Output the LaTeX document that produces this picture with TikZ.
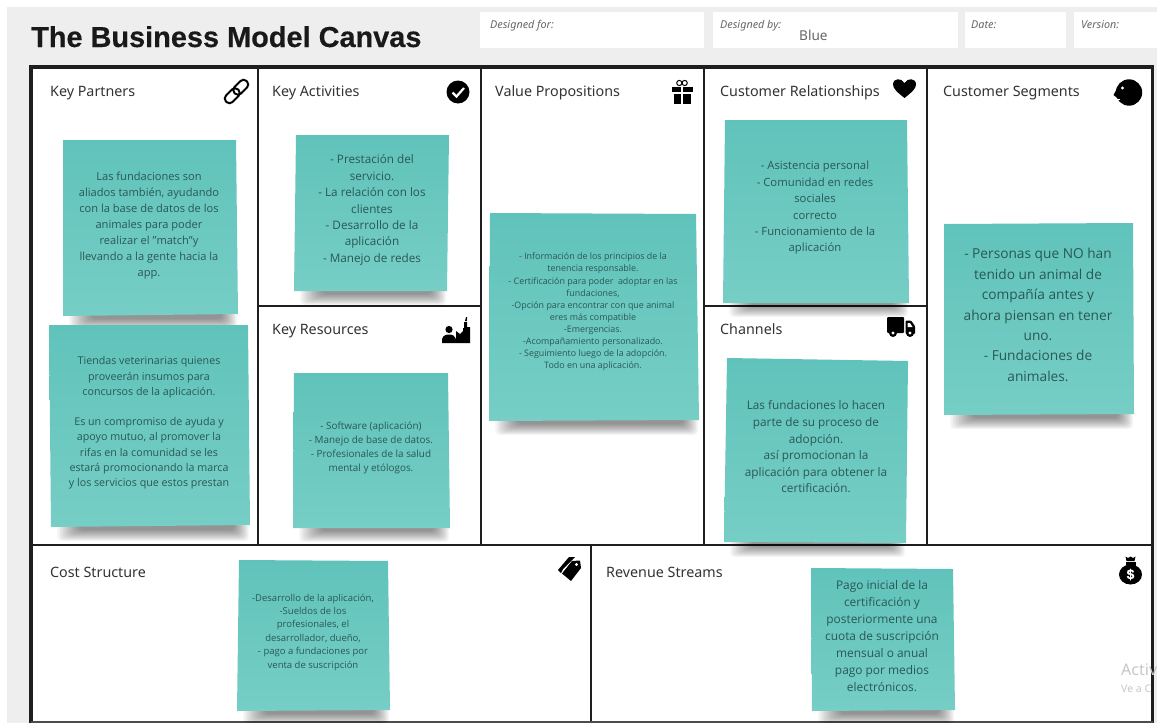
\documentclass[tikz,border=0pt]{standalone}
\usepackage{fontspec}
\setmainfont{Open Sans}
\newfontfamily\labelfont{Noto Sans}
\newfontfamily\titlefont[BoldFeatures={FakeBold=0.35}]{Liberation Sans}
\usetikzlibrary{calc}
\definecolor{pagegray}{HTML}{EEEEEE}
\definecolor{noteA}{HTML}{60C3BB}
\definecolor{noteB}{HTML}{76CEC5}
\definecolor{notetext}{HTML}{2A5855}
\definecolor{linedark}{HTML}{1E1E1E}
\definecolor{labeltext}{HTML}{333333}
\definecolor{headtext}{HTML}{666666}
\newcommand{\noteshadow}[3]{%
  \foreach \i in {0,...,15}{
    \fill[black,opacity=.032,rounded corners=4pt] ({#1+6+\i*1.5},{#3-4}) rectangle ({#2-1-\i*1.0},{#3+14-\i*.75});
  }}
\newcommand{\notepoly}[8]{%
  \shade[shading angle=155,top color=noteA,bottom color=noteB] (#1,#2) -- (#3,#4) -- (#5,#6) -- (#7,#8) -- cycle;}
\tikzset{
  x=1pt,y=-1pt,
  frame/.style={draw=linedark,line width=3.2pt},
  cell/.style={draw=linedark,line width=2pt},
  boxlabel/.style={anchor=base west,inner sep=0pt,text=labeltext,font=\labelfont\fontsize{14.3}{17}\selectfont},
  headlabel/.style={anchor=base west,inner sep=0pt,text=headtext,font=\labelfont\itshape\fontsize{10.8}{12}\selectfont},
  notebody/.style={align=center,inner sep=0pt,text=notetext},
  icon/.style={fill=black,draw=none},
}
\begin{document}
\begin{tikzpicture}
\useasboundingbox (0,0) rectangle (1157,723);
\fill[white] (0,0) rectangle (1157,723);
\fill[pagegray] (7,7) rectangle (1157,723);
% header boxes
\fill[white] (480,12) rectangle (704,48);
\fill[white] (713,12) rectangle (958,48);
\fill[white] (965,12) rectangle (1066,48);
\fill[white] (1074,12) rectangle (1157,48);
\node[headlabel] (hfor) at (490,28) {Designed for:};
\node[headlabel] (hby) at (720,28) {Designed by:};
\node[headlabel] (hdate) at (971,28) {Date:};
\node[headlabel] (hver) at (1081,28) {Version:};
\node[anchor=base west,inner sep=0pt,text=headtext,font=\labelfont\fontsize{13.6}{15}\selectfont] (blue) at (799,40) {Blue};
\node[anchor=base west,inner sep=0pt,text=black!90,font=\titlefont\bfseries\fontsize{28.9}{32}\selectfont] (title) at (31,47) {The Business Model Canvas};
% canvas
\fill[white] (31,67) rectangle (1153,722);
\draw[cell] (257.5,67) -- (257.5,544.5);
\draw[cell] (480.5,67) -- (480.5,544.5);
\draw[cell] (703.5,67) -- (703.5,544.5);
\draw[cell] (926.5,67) -- (926.5,544.5);
\draw[cell] (257.5,305.5) -- (480.5,305.5);
\draw[cell] (703.5,305.5) -- (926.5,305.5);
\draw[cell] (31,544.5) -- (1153,544.5);
\draw[cell] (590.5,544.5) -- (590.5,722);
\draw[frame] (31,723.5) -- (31,67) -- (1152.5,67) -- (1152.5,723.5);
\draw[draw=black!70,line width=1.6pt] (31,722) -- (1153,722);
% labels
\node[boxlabel] (kp) at (50,96) {Key Partners};
\node[boxlabel] (ka) at (272,96) {Key Activities};
\node[boxlabel] (vp) at (495,96) {Value Propositions};
\node[boxlabel] (cr) at (720,96) {Customer Relationships};
\node[boxlabel] (cs) at (943,96) {Customer Segments};
\node[boxlabel] (kr) at (272,334) {Key Resources};
\node[boxlabel] (ch) at (720,334) {Channels};
\node[boxlabel] (co) at (50,577) {Cost Structure};
\node[boxlabel] (rs) at (606,577) {Revenue Streams};
% shadows
\noteshadow{63}{238}{316}
\noteshadow{51}{250}{527}
\noteshadow{294}{447}{291}
\noteshadow{293}{450}{528}
\noteshadow{489}{699}{421}
\noteshadow{723}{909}{303}
\noteshadow{724}{906}{543}
\noteshadow{944}{1134}{415}
\noteshadow{237}{390}{711}
\noteshadow{812}{955}{711}
% notes
\notepoly{63}{140}{236}{140}{238}{314}{63}{316}
\notepoly{49}{325}{248}{325}{250}{525}{51}{527}
\notepoly{296}{135}{449}{135}{447}{291}{294}{291}
\notepoly{294}{373}{448}{373}{450}{528}{293}{528}
\notepoly{490}{213}{696}{214}{699}{420}{489}{421}
\notepoly{725}{120}{907}{120}{909}{303}{723}{303}
\notepoly{727}{358}{908}{361}{906}{543}{724}{542}
\notepoly{944}{224}{1133}{223}{1134}{414}{944}{415}
\notepoly{239}{560}{388}{561}{390}{710}{237}{711}
\notepoly{811}{568}{953}{569}{955}{710}{812}{711}
% note text
\node[notebody,font=\fontsize{11.1}{16}\selectfont] (t1) at (149,226) {Las fundaciones son\\aliados también, ayudando\\con la base de datos de los\\animales para poder\\realizar el "match"y\\llevando a la gente hacia la\\app.};
\node[notebody,font=\fontsize{10.7}{15.2}\selectfont] (t2) at (149,423) {Tiendas veterinarias quienes\\proveerán insumos para\\concursos de la aplicación.\\[15.2pt]Es un compromiso de ayuda y\\apoyo mutuo, al promover la\\rifas en la comunidad se les\\estará promocionando la marca\\y los servicios que estos prestan};
\node[notebody,font=\fontsize{11.7}{16.4}\selectfont] (t3) at (372,210) {- Prestación del\\servicio.\\- La relación con los\\clientes\\- Desarrollo de la\\aplicación\\- Manejo de redes};
\node[notebody,font=\fontsize{9.9}{14}\selectfont] (t4) at (371,448) {- Software (aplicación)\\- Manejo de base de datos.\\- Profesionales de la salud\\mental y etólogos.};
\node[notebody,font=\fontsize{8.9}{12.1}\selectfont] (t5) at (593,312) {- Información de los principios de la\\tenencia responsable.\\- Certificación para poder\ \ adoptar en las\\fundaciones,\\-Opción para encontrar con que animal\\eres más compatible\\-Emergencias.\\-Acompañamiento personalizado.\\- Seguimiento luego de la adopción.\\Todo en una aplicación.};
\node[notebody,font=\fontsize{11.3}{16.4}\selectfont] (t6) at (815,208) {- Asistencia personal\\- Comunidad en redes\\sociales\\correcto\\- Funcionamiento de la\\aplicación};
\node[notebody,font=\fontsize{11.8}{16.6}\selectfont] (t7) at (816,447) {Las fundaciones lo hacen\\parte de su proceso de\\adopción.\\así promocionan la\\aplicación para obtener la\\certificación.};
\node[notebody,font=\fontsize{13.7}{20.4}\selectfont] (t8) at (1038,315) {- Personas que NO han\\tenido un animal de\\compañía antes y\\ahora piensan en tener\\uno.\\- Fundaciones de\\animales.};
\node[notebody,font=\fontsize{9.5}{13.4}\selectfont] (t9) at (313,632) {-Desarrollo de la aplicación,\\-Sueldos de los\\profesionales, el\\desarrollador, dueño,\\- pago a fundaciones por\\venta de suscripción};
\node[notebody,font=\fontsize{11.9}{16.9}\selectfont] (t10) at (882,636) {Pago inicial de la\\certificación y\\posteriormente una\\cuota de suscripción\\mensual o anual\\pago por medios\\electrónicos.};
% watermark
\node[anchor=base west,inner sep=0pt,text=black!22,font=\labelfont\fontsize{16}{18}\selectfont] (wm1) at (1121,675) {Activ};
\node[anchor=base west,inner sep=0pt,text=black!22,font=\labelfont\fontsize{10.5}{12}\selectfont] (wm2) at (1121,692) {Ve a C};
% link icon
\begin{scope}[shift={(236.5,91.5)},rotate=45]
  \draw[line width=2pt,rounded corners=4.2pt] (-14.5,-4.6) rectangle (2.5,4.6);
  \draw[line width=2pt,rounded corners=4.2pt] (-2.5,-4.6) rectangle (14.5,4.6);
\end{scope}
% check icon
\fill[black] (458,92) circle (11.5);
\draw[white,line width=2.2pt] (452.5,92.5) -- (456.5,96.5) -- (464,88);
% gift icon
\draw[line width=1pt] (679.3,83) circle (2.6);
\draw[line width=1pt] (684.7,83) circle (2.6);
\fill[icon] (671.5,86.5) rectangle (692.5,92);
\fill[icon] (673.5,93.5) rectangle (691,104);
\fill[white] (681.3,86.5) rectangle (682.7,104);
% heart icon
\fill[icon] (904.5,98) .. controls (897,92) and (893,88.5) .. (893,84.5) .. controls (893,78) and (901.5,77.5) .. (904.5,83) .. controls (907.5,77.5) and (916,78) .. (916,84.5) .. controls (916,88.5) and (912,92) .. (904.5,98) -- cycle;
% face icon
\fill[icon] (1129,92.5) circle (13.2);
\fill[icon] (1118,87) -- (1113.5,95) -- (1118,98.5) -- cycle;
\fill[white] (1122.5,88) circle (1.6);
\draw[white,line width=.8pt] (1115.5,99.5) -- (1120,99.5);
% factory icon
\fill[icon] (442,343) -- (442,339) .. controls (443,335) and (447,334.5) .. (449,334.5) .. controls (453,334.5) and (455,336) .. (456,339) -- (456,343) -- cycle;
\fill[icon] (449,329.5) circle (3.6);
\fill[icon] (456,343) -- (456,331) -- (460,334) -- (463,331) -- (463,328) -- (464,328) -- (464,322) -- (467,322) -- (467,327) -- (470,327) -- (470,343) -- cycle;
\fill[icon] (465,321) -- (466,317) -- (467.2,317) -- (466.8,321) -- cycle;
% truck icon
\fill[icon,rounded corners=1pt] (887,317) rectangle (904,333);
\fill[icon,rounded corners=1pt] (905.5,320.5) -- (911,320.5) -- (915,326) -- (915,334) -- (905.5,334) -- cycle;
\fill[white] (907.5,323) -- (910,323) -- (912.5,327) -- (907.5,327) -- cycle;
\fill[black] (893,333) circle (4);
\fill[white] (893,333) circle (1.7);
\fill[black] (910,333) circle (4);
\fill[white] (910,333) circle (1.7);
% tag icon
\fill[icon] (558,570) -- (569,557) -- (575,557) -- (563,569) -- (561,573) -- cycle;
\fill[icon] (562,573.5) -- (572,561) -- (580,560.5) -- (581,568) -- (571,581) -- cycle;
\fill[white] (576.5,564.5) circle (1.7);
% money bag icon
\fill[icon] (1130.5,574.5) ellipse (11.5 and 10);
\fill[icon] (1125.5,556.5) -- (1128,558) -- (1130.5,556.5) -- (1133,558) -- (1135.5,556.5) -- (1134.5,561) -- (1126.5,561) -- cycle;
\fill[icon] (1125.5,562) rectangle (1135.5,566);
\node[inner sep=0pt,text=white,font=\titlefont\bfseries\fontsize{14}{14}\selectfont] (dollar) at (1130.5,574.5) {\$};
\end{tikzpicture}
\end{document}
